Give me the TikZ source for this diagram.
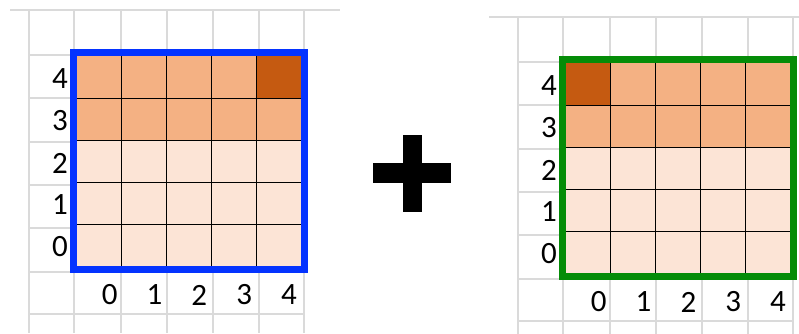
\documentclass[tikz,border=0pt]{standalone}
\usepackage{fontspec}
\setmainfont{Carlito}
\definecolor{sheetgray}{HTML}{DADADA}
\definecolor{palecell}{HTML}{FCE4D6}
\definecolor{midcell}{HTML}{F4B183}
\definecolor{darkcell}{HTML}{C55A11}
\definecolor{blueedge}{HTML}{0433FF}
\definecolor{greenedge}{HTML}{058C08}

\begin{document}
\begin{tikzpicture}[x=1pt, y=-1pt,
    gl/.style={draw=sheetgray, line width=1.2pt},
    cl/.style={draw=black, line width=0.8pt},
    lab/.style={font=\fontsize{31}{36}\selectfont, inner sep=0pt, anchor=east},
]
\useasboundingbox (0,0) rectangle (799,333);
\foreach \ox/\oy/\bc/\dk/\ta/\tb/\g in {77/56/blueedge/4/-67/263/L, 566/63/greenedge/0/-77/233/R} {
  \begin{scope}[shift={(\ox,\oy)}]
    \foreach \x in {-48,-3,44,90,136,182,227} \draw[gl] (\x,-46) -- (\x,277);
    \foreach \y in {-1,42,86,129,172,216,258} \draw[gl] (-48,\y) -- (227,\y);
    \draw[gl] (\ta,-46) -- (\tb,-46);
    \fill[palecell] (0,0) rectangle (224,210);
    \fill[midcell] (0,0) rectangle (224,84);
    \fill[darkcell] ({44.8*\dk},0) rectangle ++(44.8,42);
    \foreach \i in {1,...,4} {
      \draw[cl] ({44.8*\i},0) -- ({44.8*\i},210);
      \draw[cl] (0,{42*\i}) -- (224,{42*\i});
    }
    \draw[\bc, line width=7pt] (-3.5,-3.5) rectangle (227.5,213.5);
    \foreach \k in {0,...,4} {
      \node[lab] (\g-r\k) at (-9,{23+42*(4-\k)}) {\k};
      \node[lab] (\g-c\k) at ({44.8*(\k+1)-4},239) {\k};
    }
  \end{scope}
}
\fill (373,163) rectangle (451,183);
\fill (403,135) rectangle (422,212);
\end{tikzpicture}
\end{document}
